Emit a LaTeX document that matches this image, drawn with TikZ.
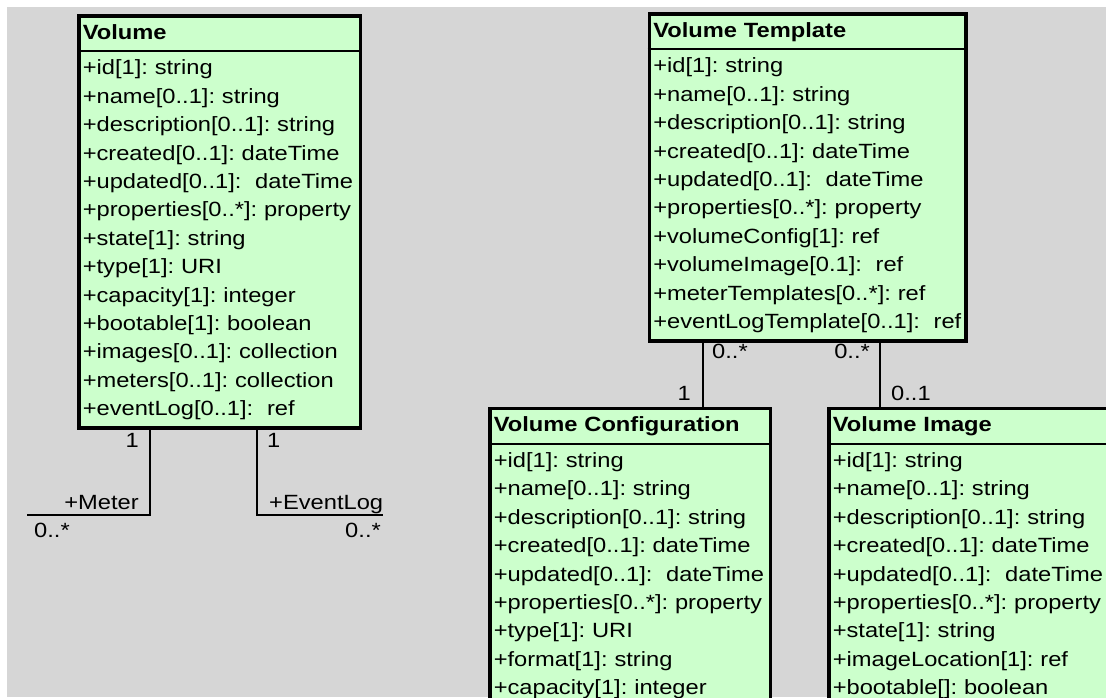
\documentclass[tikz,border=0pt]{standalone}
\usepackage{fontspec}
\setmainfont{Liberation Sans}[FakeStretch=1.15]
\usetikzlibrary{shapes.multipart,shadows}
\frenchspacing

\definecolor{bggray}{HTML}{D6D6D6}
\definecolor{classgreen}{HTML}{CCFFCC}

\tikzset{
  umlclass/.style={rectangle split, rectangle split parts=2,
    rectangle split draw splits=false, draw=black, line width=3.5pt,
    fill=classgreen, align=left, anchor=north west,
    inner xsep=4pt, inner ysep=1.9pt,
    font=\fontsize{20.6pt}{28.4pt}\selectfont,
    drop shadow={shadow xshift=1.2pt, shadow yshift=-1.2pt, fill=black!40, opacity=1}},
  headline/.style={line width=2pt},
  assoc/.style={line width=2.5pt},
  mult/.style={inner sep=0pt, font=\fontsize{20.6pt}{28.4pt}\selectfont},
}

\begin{document}
\begin{tikzpicture}[x=1pt, y=-1pt]
  \useasboundingbox (0,0) rectangle (1106,697);
  \fill[white] (0,0) rectangle (1106,697);
  \clip (0,0) rectangle (1106,697);
  \fill[bggray] (7,7) rectangle (1106,697);

  % classes
  \node[umlclass, text width=273.5pt] (vol) at (77,14) {\strut\textbf{Volume}
    \nodepart{two}\strut+id[1]: string\\
    +name[0..1]: string\\
    +description[0..1]: string\\
    +created[0..1]: dateTime\\
    +updated[0..1]:\ \ dateTime\\
    +properties[0..*]: property\\
    +state[1]: string\\
    +type[1]: URI\\
    +capacity[1]: integer\\
    +bootable[1]: boolean\\
    +images[0..1]: collection\\
    +meters[0..1]: collection\\
    +eventLog[0..1]:\ \ ref\strut};
  \node[umlclass, text width=308.5pt] (tmpl) at (647.5,12) {\strut\textbf{Volume Template}
    \nodepart{two}\strut+id[1]: string\\
    +name[0..1]: string\\
    +description[0..1]: string\\
    +created[0..1]: dateTime\\
    +updated[0..1]:\ \ dateTime\\
    +properties[0..*]: property\\
    +volumeConfig[1]: ref\\
    +volumeImage[0.1]:\ \ ref\\
    +meterTemplates[0..*]: ref\\
    +eventLogTemplate[0..1]:\ \ ref\strut};
  \node[umlclass, text width=272.5pt] (cfg) at (488,406.5) {\strut\textbf{Volume Configuration}
    \nodepart{two}\strut+id[1]: string\\
    +name[0..1]: string\\
    +description[0..1]: string\\
    +created[0..1]: dateTime\\
    +updated[0..1]:\ \ dateTime\\
    +properties[0..*]: property\\
    +type[1]: URI\\
    +format[1]: string\\
    +capacity[1]: integer\strut};
  \node[umlclass, text width=290pt] (img) at (827,406.5) {\strut\textbf{Volume Image}
    \nodepart{two}\strut+id[1]: string\\
    +name[0..1]: string\\
    +description[0..1]: string\\
    +created[0..1]: dateTime\\
    +updated[0..1]:\ \ dateTime\\
    +properties[0..*]: property\\
    +state[1]: string\\
    +imageLocation[1]: ref\\
    +bootable[]: boolean\strut};

  \draw[headline] (vol.text split west) -- (vol.text split east);
  \draw[headline] (tmpl.text split west) -- (tmpl.text split east);
  \draw[headline] (cfg.text split west) -- (cfg.text split east);
  \draw[headline] (img.text split west) -- (img.text split east);

  % links
  \coordinate (meterBend) at (150,515);
  \coordinate (meterEnd) at (27,515);
  \coordinate (eventBend) at (257,515);
  \coordinate (eventEnd) at (383,515);
  \coordinate (cfgLink) at (703,0);
  \coordinate (imgLink) at (880,0);

  \draw[assoc] (vol.south -| meterBend) -- (meterBend) -- (meterEnd);
  \draw[assoc] (vol.south -| eventBend) -- (eventBend) -- (eventEnd);
  \draw[assoc] (tmpl.south -| cfgLink) -- (cfg.north -| cfgLink);
  \draw[assoc] (tmpl.south -| imgLink) -- (img.north -| imgLink);

  % multiplicities and roles
  \node[mult, anchor=base east] (meterOne) at (139,447) {1};
  \node[mult, anchor=base east] (meterRole) at (139,509) {+Meter};
  \node[mult, anchor=base west] (meterMany) at (34,537) {0..*};
  \node[mult, anchor=base west] (eventOne) at (267,447) {1};
  \node[mult, anchor=base west] (eventRole) at (269,509) {+EventLog};
  \node[mult, anchor=base east] (eventMany) at (381,537) {0..*};
  \node[mult, anchor=base west] (cfgMany) at (712,358) {0..*};
  \node[mult, anchor=base east] (cfgOne) at (691,400) {1};
  \node[mult, anchor=base east] (imgMany) at (870,358) {0..*};
  \node[mult, anchor=base west] (imgOpt) at (891,400) {0..1};
\end{tikzpicture}
\end{document}
